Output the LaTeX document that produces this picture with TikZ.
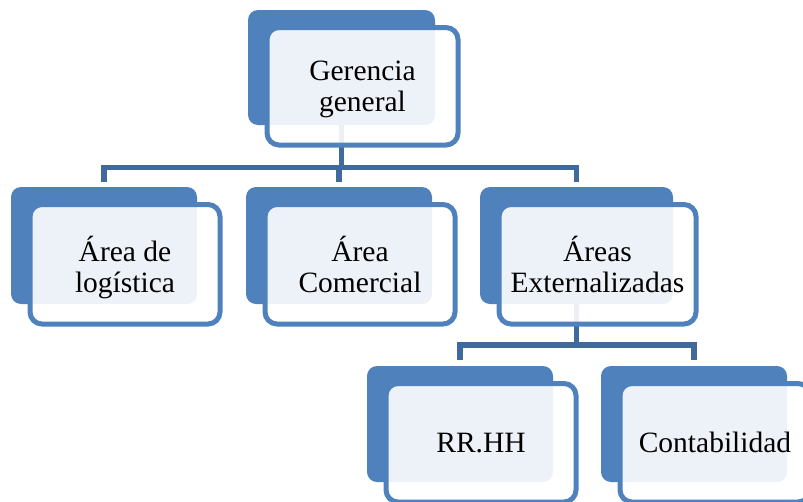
\documentclass[tikz,border=0pt]{standalone}
\usepackage{fontspec}
\setmainfont{Liberation Serif}
\definecolor{boxblue}{RGB}{79,129,189}
\definecolor{linkblue}{RGB}{64,106,158}
\begin{document}
\begin{tikzpicture}[x=1pt,y=-1pt,
  backbox/.style={fill=boxblue, rounded corners=10pt, inner sep=0pt, outer sep=0pt},
  frontbox/.style={draw=boxblue, line width=5pt, fill=white, fill opacity=0.9,
    text opacity=1, rounded corners=12pt, inner sep=0pt, outer sep=0pt,
    align=center, text depth=0pt, font=\fontsize{29.5}{30.5}\selectfont},
  link/.style={draw=linkblue, line width=5.5pt},
]
\useasboundingbox (0,0) rectangle (803,501);
\clip (0,0) rectangle (803,501);

% solid back panels
\node[backbox, minimum width=187pt, minimum height=115pt] (g) at (341.5,67.5) {};
\node[backbox, minimum width=186pt, minimum height=117pt] (l) at (104,245.5) {};
\node[backbox, minimum width=186pt, minimum height=117pt] (m) at (339,245.5) {};
\node[backbox, minimum width=193pt, minimum height=117pt] (r) at (576.5,245.5) {};
\node[backbox, minimum width=186pt, minimum height=116pt] (h) at (460,424) {};
\node[backbox, minimum width=186pt, minimum height=116pt] (c) at (694,424) {};

% bus lines
\coordinate (bus1) at (0,167.5);
\coordinate (bus2) at (0,345);
\draw[link] (g.south) -- (g.south |- bus1);
\draw[link, shorten <=5pt, shorten >=5pt] (l.north) |- (g.south |- bus1) -| (r.north);
\draw[link, shorten >=5pt] (m.north |- bus1) -- (m.north);
\draw[link] (r.south) -- (r.south |- bus2);
\draw[link, shorten <=6pt, shorten >=6pt] (h.north) |- (r.south |- bus2) -| (c.north);

% outlined front panels with labels
\node[frontbox, minimum width=191pt, minimum height=117.5pt] (gf) at (362.5,86.25) {Gerencia\\general};
\node[frontbox, minimum width=190pt, minimum height=119.5pt] (lf) at (125,264.25) {Área de\\logística};
\node[frontbox, minimum width=190pt, minimum height=119.5pt] (mf) at (360,264.25) {Área\\Comercial};
\node[frontbox, minimum width=197pt, minimum height=119.5pt] (rf) at (597.5,264.25) {Áreas\\Externalizadas};
\node[frontbox, minimum width=190pt, minimum height=118.5pt] (hf) at (481,442.75) {RR.HH};
\node[frontbox, minimum width=190pt, minimum height=118.5pt] (cf) at (715,442.75) {Contabilidad};
\end{tikzpicture}
\end{document}
